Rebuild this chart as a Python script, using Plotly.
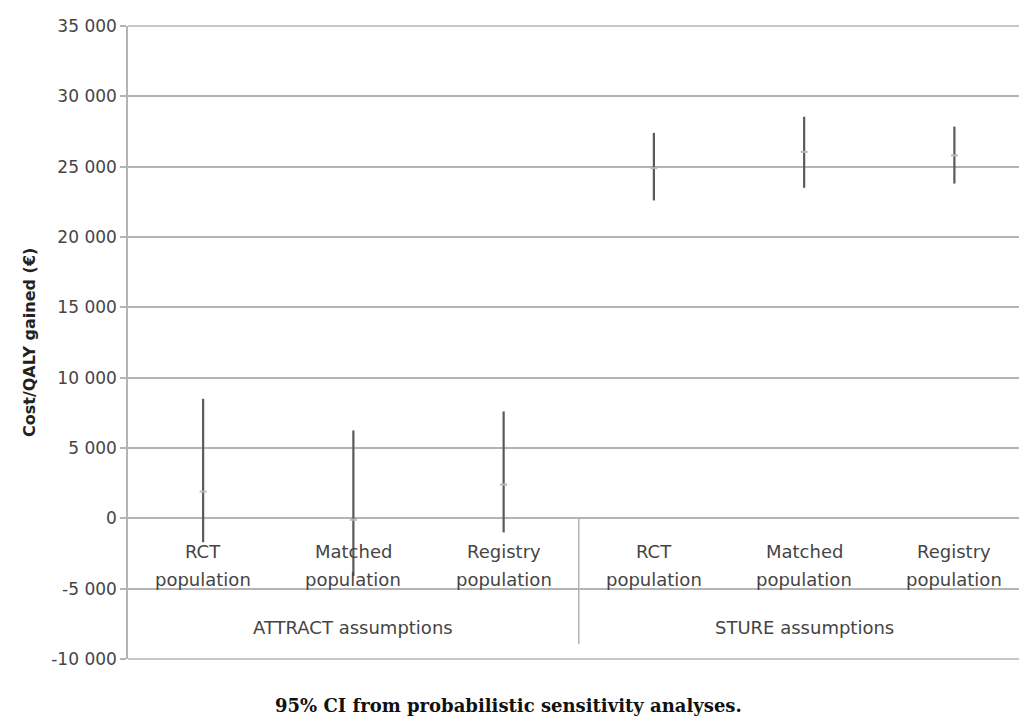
import plotly.graph_objects as go

# ---- data ----
groups = ["ATTRACT assumptions", "STURE assumptions"]
populations = ["RCT population", "Matched population", "Registry population",
               "RCT population", "Matched population", "Registry population"]
mean_icer = [1900, -100, 2400, 24900, 26050, 25800]
ci_lower = [-1700, -4100, -1000, 22600, 23500, 23800]
ci_upper = [8500, 6250, 7600, 27400, 28550, 27850]
y_tick_vals = [-10000, -5000, 0, 5000, 10000, 15000, 20000, 25000, 30000, 35000]
y_tick_text = ["-10 000", "-5 000", "0", "5 000", "10 000", "15 000",
               "20 000", "25 000", "30 000", "35 000"]
y_title = "Cost/QALY gained (€)"
caption = "95% CI from probabilistic sensitivity analyses."

x_pos = list(range(len(populations)))
y_min, y_max = y_tick_vals[0], y_tick_vals[-1]

fig = go.Figure()
fig.add_trace(go.Scatter(
    x=x_pos, y=mean_icer, mode="markers",
    marker=dict(symbol="line-ew", size=5, line=dict(color="#b8b8b8", width=2)),
    error_y=dict(type="data", symmetric=False,
                 array=[u - m for u, m in zip(ci_upper, mean_icer)],
                 arrayminus=[m - l for m, l in zip(mean_icer, ci_lower)],
                 color="#5a5a5a", thickness=2.2, width=0),
    showlegend=False, hoverinfo="skip"))

grid_col = "#b4b4b4"
txt_col = "#454545"
fig.update_layout(
    width=1019, height=718,
    margin=dict(l=128, r=0, t=26, b=59),
    paper_bgcolor="white", plot_bgcolor="white",
    xaxis=dict(range=[-0.5, 5.43], showticklabels=False, showgrid=False,
               zeroline=False, showline=False, ticks=""),
    yaxis=dict(range=[y_min, y_max], tickvals=y_tick_vals, ticktext=y_tick_text,
               showgrid=True, gridcolor=grid_col, gridwidth=1.5,
               zeroline=False, showline=True, linecolor=grid_col, linewidth=1.5,
               ticks="outside", ticklen=6, tickcolor=grid_col, tickwidth=1.5,
               tickfont=dict(family="DejaVu Sans", size=17, color=txt_col)),
    font=dict(family="DejaVu Sans", color=txt_col),
)

# top and bottom gridlines (range edges, drawn unclipped)
for yp in (0, 1):
    fig.add_shape(type="line", xref="paper", yref="paper", x0=0, x1=1, y0=yp, y1=yp,
                  line=dict(color=grid_col, width=1.5))

# category labels (two lines each), inside the plot below zero
for i, pop in enumerate(populations):
    w1, w2 = pop.split(" ", 1)
    fig.add_annotation(x=i, y=-2340, xref="x", yref="y", text=w1, showarrow=False,
                       font=dict(family="DejaVu Sans", size=18, color=txt_col))
    fig.add_annotation(x=i, y=-4330, xref="x", yref="y", text=w2, showarrow=False,
                       font=dict(family="DejaVu Sans", size=18, color=txt_col))

for gi, g in enumerate(groups):
    fig.add_annotation(x=gi * 3 + 1, y=-7740, xref="x", yref="y", text=g, showarrow=False,
                       font=dict(family="DejaVu Sans", size=18, color=txt_col))

# group separator
fig.add_shape(type="line", xref="x", yref="y", x0=2.5, x1=2.5, y0=0, y1=-8950,
              line=dict(color=grid_col, width=1.5))

# y-axis title
fig.add_annotation(xref="paper", yref="paper", x=0, y=0.5, xshift=-110,
                   text="<b>" + y_title + "</b>", textangle=-90, showarrow=False,
                   font=dict(family="DejaVu Sans", size=16, color="#222222"))

# caption
fig.add_annotation(xref="paper", yref="paper", x=0.427, y=0, yshift=-59,
                   text="<b>" + caption + "</b>", showarrow=False,
                   font=dict(family="DejaVu Serif", size=18, color="#111111"))

fig.write_html("out.html")
